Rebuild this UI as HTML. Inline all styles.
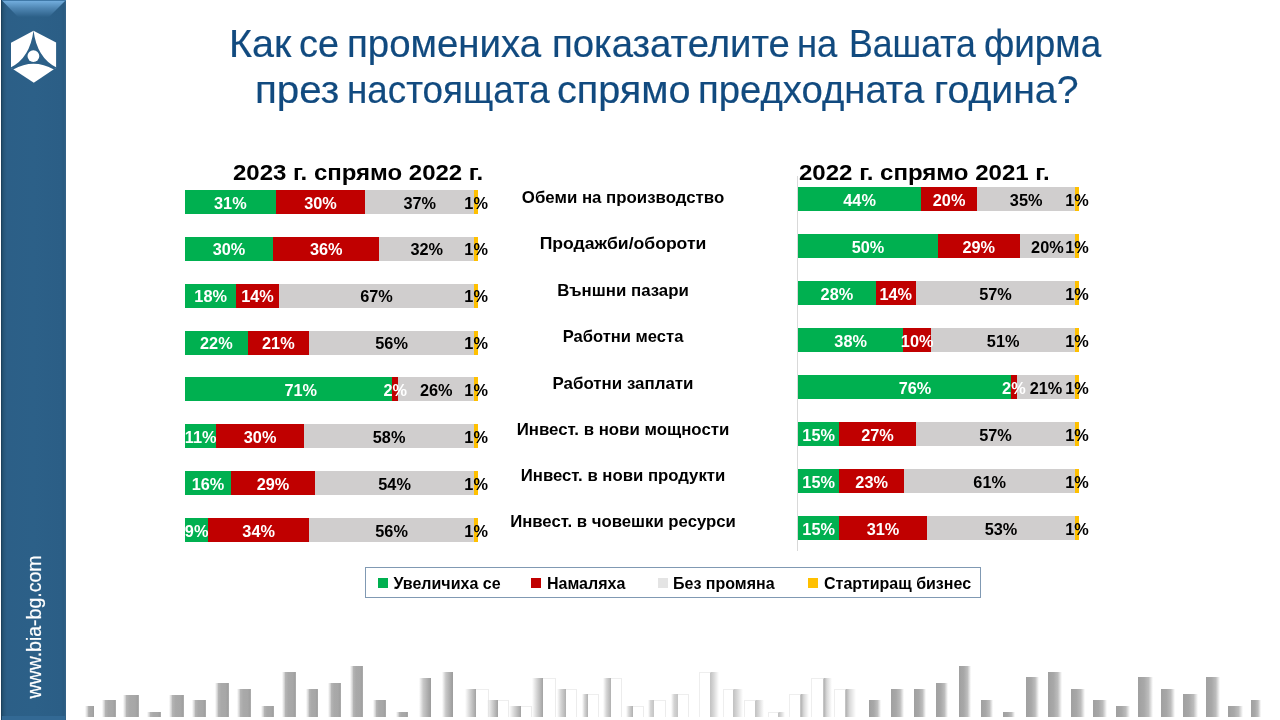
<!DOCTYPE html>
<html><head><meta charset="utf-8"><title>BIA</title>
<style>
html,body{margin:0;padding:0;background:#fff;}
body{width:1280px;height:720px;position:relative;overflow:hidden;font-family:"Liberation Sans", Arial, sans-serif;}
.b{position:absolute;}
.t{position:absolute;white-space:nowrap;}
</style></head><body>
<div class="b" style="left:1px;top:0;width:65px;height:720px;background:linear-gradient(90deg,#1b3954 0px,#23506f 1.5px,#29587c 3px,#2C5F87 6px,#2C6088 50%,#2B5E86 60px,#2a5a80 63px,#35648a 65px)"></div>
<svg class="b" style="left:1px;top:0" width="65" height="24" viewBox="0 0 65 24">
<defs><linearGradient id="bev" x1="0" y1="0" x2="0" y2="1"><stop offset="0" stop-color="#72addd"/><stop offset="0.45" stop-color="#4f86b3"/><stop offset="1" stop-color="#2C6088"/></linearGradient></defs>
<rect x="1" y="0" width="64" height="1" fill="#4079a8"/>
<polygon points="1.5,1 64,1 48,17 17,17" fill="url(#bev)"/>
</svg>
<div class="b" style="left:2px;top:716px;width:63px;height:4px;background:#336994"></div>
<svg class="b" style="left:0;top:0" width="66" height="100" viewBox="0 0 66 100">
<polygon points="33.5,30.8 56.1,42.5 56.1,67.7 33.8,82.8 11,67.7 11,42.8" fill="#fff"/>
<path d="M33.5,30.6 Q30,58 10.6,67.6 L13.2,69.4 Q33.5,58.2 53.9,69.4 L56.5,67.6 Q37,58 33.5,30.6 Z" fill="#2C6088"/>
<circle cx="33.4" cy="56.1" r="5.9" fill="#fff"/>
</svg>
<div class="t" style="left:35.1px;top:626.7px;font-size:19.5px;line-height:19.5px;font-weight:400;color:#fff;transform:translate(-50%,-50%) rotate(-90deg);-webkit-text-stroke:0.2px #fff;">www.bia-bg.com</div>
<div class="t" style="left:228.92px;top:24.71px;font-size:38.5px;line-height:38.5px;font-weight:400;color:#114A7F;transform-origin:0 50%;transform:scaleX(1.0276);-webkit-text-stroke:0.2px #114A7F;">Как</div>
<div class="t" style="left:298.64px;top:24.71px;font-size:38.5px;line-height:38.5px;font-weight:400;color:#114A7F;transform-origin:0 50%;transform:scaleX(0.9811);-webkit-text-stroke:0.2px #114A7F;">се</div>
<div class="t" style="left:347.01px;top:24.71px;font-size:38.5px;line-height:38.5px;font-weight:400;color:#114A7F;transform-origin:0 50%;transform:scaleX(0.9979);-webkit-text-stroke:0.2px #114A7F;">промениха</div>
<div class="t" style="left:552.02px;top:24.71px;font-size:38.5px;line-height:38.5px;font-weight:400;color:#114A7F;transform-origin:0 50%;transform:scaleX(0.9947);-webkit-text-stroke:0.2px #114A7F;">показателите</div>
<div class="t" style="left:797.16px;top:24.71px;font-size:38.5px;line-height:38.5px;font-weight:400;color:#114A7F;transform-origin:0 50%;transform:scaleX(0.945);-webkit-text-stroke:0.2px #114A7F;">на</div>
<div class="t" style="left:848.82px;top:24.71px;font-size:38.5px;line-height:38.5px;font-weight:400;color:#114A7F;transform-origin:0 50%;transform:scaleX(0.9254);-webkit-text-stroke:0.2px #114A7F;">Вашата</div>
<div class="t" style="left:984.34px;top:24.71px;font-size:38.5px;line-height:38.5px;font-weight:400;color:#114A7F;transform-origin:0 50%;transform:scaleX(0.9566);-webkit-text-stroke:0.2px #114A7F;">фирма</div>
<div class="t" style="left:254.86px;top:71.21px;font-size:38.5px;line-height:38.5px;font-weight:400;color:#114A7F;transform-origin:0 50%;transform:scaleX(1.0474);-webkit-text-stroke:0.2px #114A7F;">през</div>
<div class="t" style="left:346.53px;top:71.21px;font-size:38.5px;line-height:38.5px;font-weight:400;color:#114A7F;transform-origin:0 50%;transform:scaleX(0.955);-webkit-text-stroke:0.2px #114A7F;">настоящата</div>
<div class="t" style="left:557.34px;top:71.21px;font-size:38.5px;line-height:38.5px;font-weight:400;color:#114A7F;transform-origin:0 50%;transform:scaleX(1.0286);-webkit-text-stroke:0.2px #114A7F;">спрямо</div>
<div class="t" style="left:698.02px;top:71.21px;font-size:38.5px;line-height:38.5px;font-weight:400;color:#114A7F;transform-origin:0 50%;transform:scaleX(0.9942);-webkit-text-stroke:0.2px #114A7F;">предходната</div>
<div class="t" style="left:934.14px;top:71.21px;font-size:38.5px;line-height:38.5px;font-weight:400;color:#114A7F;transform-origin:0 50%;transform:scaleX(1.0188);-webkit-text-stroke:0.2px #114A7F;">година?</div>
<div class="t" style="left:233.00px;top:161.65px;font-size:22.5px;line-height:22.5px;font-weight:700;color:#000;transform-origin:0 50%;transform:scaleX(1.066);">2023 г. спрямо 2022 г.</div>
<div class="t" style="left:799.00px;top:161.65px;font-size:22.5px;line-height:22.5px;font-weight:700;color:#000;transform-origin:0 50%;transform:scaleX(1.068);">2022 г. спрямо 2021 г.</div>
<div class="b" style="left:797px;top:176px;width:1px;height:375px;background:#d9d9d9"></div>
<div class="b" style="left:185.00px;top:190.00px;width:90.70px;height:24px;background:#00B050"></div><div class="b" style="left:275.70px;top:190.00px;width:89.70px;height:24px;background:#C00000"></div><div class="b" style="left:365.40px;top:190.00px;width:108.80px;height:24px;background:#D0CECE"></div><div class="b" style="left:474.20px;top:190.00px;width:3.80px;height:24px;background:#FFC000"></div><div class="b" style="left:185.00px;top:236.86px;width:88.10px;height:24px;background:#00B050"></div><div class="b" style="left:273.10px;top:236.86px;width:106.20px;height:24px;background:#C00000"></div><div class="b" style="left:379.30px;top:236.86px;width:94.90px;height:24px;background:#D0CECE"></div><div class="b" style="left:474.20px;top:236.86px;width:3.80px;height:24px;background:#FFC000"></div><div class="b" style="left:185.00px;top:283.72px;width:51.30px;height:24px;background:#00B050"></div><div class="b" style="left:236.30px;top:283.72px;width:42.50px;height:24px;background:#C00000"></div><div class="b" style="left:278.80px;top:283.72px;width:195.40px;height:24px;background:#D0CECE"></div><div class="b" style="left:474.20px;top:283.72px;width:3.80px;height:24px;background:#FFC000"></div><div class="b" style="left:185.00px;top:330.58px;width:62.70px;height:24px;background:#00B050"></div><div class="b" style="left:247.70px;top:330.58px;width:61.30px;height:24px;background:#C00000"></div><div class="b" style="left:309.00px;top:330.58px;width:165.20px;height:24px;background:#D0CECE"></div><div class="b" style="left:474.20px;top:330.58px;width:3.80px;height:24px;background:#FFC000"></div><div class="b" style="left:185.00px;top:377.44px;width:207.30px;height:24px;background:#00B050"></div><div class="b" style="left:392.30px;top:377.44px;width:6.00px;height:24px;background:#C00000"></div><div class="b" style="left:398.30px;top:377.44px;width:75.90px;height:24px;background:#D0CECE"></div><div class="b" style="left:474.20px;top:377.44px;width:3.80px;height:24px;background:#FFC000"></div><div class="b" style="left:185.00px;top:424.30px;width:31.20px;height:24px;background:#00B050"></div><div class="b" style="left:216.20px;top:424.30px;width:87.80px;height:24px;background:#C00000"></div><div class="b" style="left:304.00px;top:424.30px;width:170.20px;height:24px;background:#D0CECE"></div><div class="b" style="left:474.20px;top:424.30px;width:3.80px;height:24px;background:#FFC000"></div><div class="b" style="left:185.00px;top:471.16px;width:46.00px;height:24px;background:#00B050"></div><div class="b" style="left:231.00px;top:471.16px;width:84.00px;height:24px;background:#C00000"></div><div class="b" style="left:315.00px;top:471.16px;width:159.20px;height:24px;background:#D0CECE"></div><div class="b" style="left:474.20px;top:471.16px;width:3.80px;height:24px;background:#FFC000"></div><div class="b" style="left:185.00px;top:518.02px;width:23.30px;height:24px;background:#00B050"></div><div class="b" style="left:208.30px;top:518.02px;width:100.70px;height:24px;background:#C00000"></div><div class="b" style="left:309.00px;top:518.02px;width:165.20px;height:24px;background:#D0CECE"></div><div class="b" style="left:474.20px;top:518.02px;width:3.80px;height:24px;background:#FFC000"></div>
<div class="b" style="left:798.00px;top:187.00px;width:123.25px;height:24px;background:#00B050"></div><div class="b" style="left:921.25px;top:187.00px;width:55.75px;height:24px;background:#C00000"></div><div class="b" style="left:977.00px;top:187.00px;width:98.30px;height:24px;background:#D0CECE"></div><div class="b" style="left:1075.30px;top:187.00px;width:3.30px;height:24px;background:#FFC000"></div><div class="b" style="left:798.00px;top:234.04px;width:140.00px;height:24px;background:#00B050"></div><div class="b" style="left:938.00px;top:234.04px;width:81.50px;height:24px;background:#C00000"></div><div class="b" style="left:1019.50px;top:234.04px;width:55.80px;height:24px;background:#D0CECE"></div><div class="b" style="left:1075.30px;top:234.04px;width:3.30px;height:24px;background:#FFC000"></div><div class="b" style="left:798.00px;top:281.08px;width:77.75px;height:24px;background:#00B050"></div><div class="b" style="left:875.75px;top:281.08px;width:40.00px;height:24px;background:#C00000"></div><div class="b" style="left:915.75px;top:281.08px;width:159.55px;height:24px;background:#D0CECE"></div><div class="b" style="left:1075.30px;top:281.08px;width:3.30px;height:24px;background:#FFC000"></div><div class="b" style="left:798.00px;top:328.12px;width:105.30px;height:24px;background:#00B050"></div><div class="b" style="left:903.30px;top:328.12px;width:27.70px;height:24px;background:#C00000"></div><div class="b" style="left:931.00px;top:328.12px;width:144.30px;height:24px;background:#D0CECE"></div><div class="b" style="left:1075.30px;top:328.12px;width:3.30px;height:24px;background:#FFC000"></div><div class="b" style="left:798.00px;top:375.16px;width:213.00px;height:24px;background:#00B050"></div><div class="b" style="left:1011.00px;top:375.16px;width:5.70px;height:24px;background:#C00000"></div><div class="b" style="left:1016.70px;top:375.16px;width:58.60px;height:24px;background:#D0CECE"></div><div class="b" style="left:1075.30px;top:375.16px;width:3.30px;height:24px;background:#FFC000"></div><div class="b" style="left:798.00px;top:422.20px;width:41.30px;height:24px;background:#00B050"></div><div class="b" style="left:839.30px;top:422.20px;width:76.40px;height:24px;background:#C00000"></div><div class="b" style="left:915.70px;top:422.20px;width:159.60px;height:24px;background:#D0CECE"></div><div class="b" style="left:1075.30px;top:422.20px;width:3.30px;height:24px;background:#FFC000"></div><div class="b" style="left:798.00px;top:469.24px;width:41.30px;height:24px;background:#00B050"></div><div class="b" style="left:839.30px;top:469.24px;width:64.70px;height:24px;background:#C00000"></div><div class="b" style="left:904.00px;top:469.24px;width:171.30px;height:24px;background:#D0CECE"></div><div class="b" style="left:1075.30px;top:469.24px;width:3.30px;height:24px;background:#FFC000"></div><div class="b" style="left:798.00px;top:516.28px;width:41.30px;height:24px;background:#00B050"></div><div class="b" style="left:839.30px;top:516.28px;width:87.40px;height:24px;background:#C00000"></div><div class="b" style="left:926.70px;top:516.28px;width:148.60px;height:24px;background:#D0CECE"></div><div class="b" style="left:1075.30px;top:516.28px;width:3.30px;height:24px;background:#FFC000"></div>
<div class="b" style="left:185px;top:0;width:320px;height:720px;overflow:hidden">
<div class="b" style="left:-185px;top:0;width:1280px;height:720px"><div class="t" style="left:230.35px;top:194.60px;font-size:16.3px;line-height:16.3px;font-weight:700;color:#fff;transform:translateX(-50%) scaleX(1.0);">31%</div><div class="t" style="left:320.55px;top:194.60px;font-size:16.3px;line-height:16.3px;font-weight:700;color:#fff;transform:translateX(-50%) scaleX(1.0);">30%</div><div class="t" style="left:419.80px;top:194.60px;font-size:16.3px;line-height:16.3px;font-weight:700;color:#000;transform:translateX(-50%) scaleX(1.0);">37%</div><div class="t" style="left:476.10px;top:194.60px;font-size:16.3px;line-height:16.3px;font-weight:700;color:#000;transform:translateX(-50%) scaleX(1.0);">1%</div><div class="t" style="left:229.05px;top:241.46px;font-size:16.3px;line-height:16.3px;font-weight:700;color:#fff;transform:translateX(-50%) scaleX(1.0);">30%</div><div class="t" style="left:326.20px;top:241.46px;font-size:16.3px;line-height:16.3px;font-weight:700;color:#fff;transform:translateX(-50%) scaleX(1.0);">36%</div><div class="t" style="left:426.75px;top:241.46px;font-size:16.3px;line-height:16.3px;font-weight:700;color:#000;transform:translateX(-50%) scaleX(1.0);">32%</div><div class="t" style="left:476.10px;top:241.46px;font-size:16.3px;line-height:16.3px;font-weight:700;color:#000;transform:translateX(-50%) scaleX(1.0);">1%</div><div class="t" style="left:210.65px;top:288.32px;font-size:16.3px;line-height:16.3px;font-weight:700;color:#fff;transform:translateX(-50%) scaleX(1.0);">18%</div><div class="t" style="left:257.55px;top:288.32px;font-size:16.3px;line-height:16.3px;font-weight:700;color:#fff;transform:translateX(-50%) scaleX(1.0);">14%</div><div class="t" style="left:376.50px;top:288.32px;font-size:16.3px;line-height:16.3px;font-weight:700;color:#000;transform:translateX(-50%) scaleX(1.0);">67%</div><div class="t" style="left:476.10px;top:288.32px;font-size:16.3px;line-height:16.3px;font-weight:700;color:#000;transform:translateX(-50%) scaleX(1.0);">1%</div><div class="t" style="left:216.35px;top:335.18px;font-size:16.3px;line-height:16.3px;font-weight:700;color:#fff;transform:translateX(-50%) scaleX(1.0);">22%</div><div class="t" style="left:278.35px;top:335.18px;font-size:16.3px;line-height:16.3px;font-weight:700;color:#fff;transform:translateX(-50%) scaleX(1.0);">21%</div><div class="t" style="left:391.60px;top:335.18px;font-size:16.3px;line-height:16.3px;font-weight:700;color:#000;transform:translateX(-50%) scaleX(1.0);">56%</div><div class="t" style="left:476.10px;top:335.18px;font-size:16.3px;line-height:16.3px;font-weight:700;color:#000;transform:translateX(-50%) scaleX(1.0);">1%</div><div class="t" style="left:300.80px;top:382.04px;font-size:16.3px;line-height:16.3px;font-weight:700;color:#fff;transform:translateX(-50%) scaleX(1.0);">71%</div><div class="t" style="left:395.30px;top:382.04px;font-size:16.3px;line-height:16.3px;font-weight:700;color:#fff;transform:translateX(-50%) scaleX(1.0);">2%</div><div class="t" style="left:436.25px;top:382.04px;font-size:16.3px;line-height:16.3px;font-weight:700;color:#000;transform:translateX(-50%) scaleX(1.0);">26%</div><div class="t" style="left:476.10px;top:382.04px;font-size:16.3px;line-height:16.3px;font-weight:700;color:#000;transform:translateX(-50%) scaleX(1.0);">1%</div><div class="t" style="left:200.60px;top:428.90px;font-size:16.3px;line-height:16.3px;font-weight:700;color:#fff;transform:translateX(-50%) scaleX(1.0);">11%</div><div class="t" style="left:260.10px;top:428.90px;font-size:16.3px;line-height:16.3px;font-weight:700;color:#fff;transform:translateX(-50%) scaleX(1.0);">30%</div><div class="t" style="left:389.10px;top:428.90px;font-size:16.3px;line-height:16.3px;font-weight:700;color:#000;transform:translateX(-50%) scaleX(1.0);">58%</div><div class="t" style="left:476.10px;top:428.90px;font-size:16.3px;line-height:16.3px;font-weight:700;color:#000;transform:translateX(-50%) scaleX(1.0);">1%</div><div class="t" style="left:208.00px;top:475.76px;font-size:16.3px;line-height:16.3px;font-weight:700;color:#fff;transform:translateX(-50%) scaleX(1.0);">16%</div><div class="t" style="left:273.00px;top:475.76px;font-size:16.3px;line-height:16.3px;font-weight:700;color:#fff;transform:translateX(-50%) scaleX(1.0);">29%</div><div class="t" style="left:394.60px;top:475.76px;font-size:16.3px;line-height:16.3px;font-weight:700;color:#000;transform:translateX(-50%) scaleX(1.0);">54%</div><div class="t" style="left:476.10px;top:475.76px;font-size:16.3px;line-height:16.3px;font-weight:700;color:#000;transform:translateX(-50%) scaleX(1.0);">1%</div><div class="t" style="left:196.65px;top:522.62px;font-size:16.3px;line-height:16.3px;font-weight:700;color:#fff;transform:translateX(-50%) scaleX(1.0);">9%</div><div class="t" style="left:258.65px;top:522.62px;font-size:16.3px;line-height:16.3px;font-weight:700;color:#fff;transform:translateX(-50%) scaleX(1.0);">34%</div><div class="t" style="left:391.60px;top:522.62px;font-size:16.3px;line-height:16.3px;font-weight:700;color:#000;transform:translateX(-50%) scaleX(1.0);">56%</div><div class="t" style="left:476.10px;top:522.62px;font-size:16.3px;line-height:16.3px;font-weight:700;color:#000;transform:translateX(-50%) scaleX(1.0);">1%</div></div></div>
<div class="t" style="left:859.62px;top:191.60px;font-size:16.3px;line-height:16.3px;font-weight:700;color:#fff;transform:translateX(-50%) scaleX(1.0);">44%</div><div class="t" style="left:949.12px;top:191.60px;font-size:16.3px;line-height:16.3px;font-weight:700;color:#fff;transform:translateX(-50%) scaleX(1.0);">20%</div><div class="t" style="left:1026.15px;top:191.60px;font-size:16.3px;line-height:16.3px;font-weight:700;color:#000;transform:translateX(-50%) scaleX(1.0);">35%</div><div class="t" style="left:1076.95px;top:191.60px;font-size:16.3px;line-height:16.3px;font-weight:700;color:#000;transform:translateX(-50%) scaleX(1.0);">1%</div><div class="t" style="left:868.00px;top:238.64px;font-size:16.3px;line-height:16.3px;font-weight:700;color:#fff;transform:translateX(-50%) scaleX(1.0);">50%</div><div class="t" style="left:978.75px;top:238.64px;font-size:16.3px;line-height:16.3px;font-weight:700;color:#fff;transform:translateX(-50%) scaleX(1.0);">29%</div><div class="t" style="left:1047.40px;top:238.64px;font-size:16.3px;line-height:16.3px;font-weight:700;color:#000;transform:translateX(-50%) scaleX(1.0);">20%</div><div class="t" style="left:1076.95px;top:238.64px;font-size:16.3px;line-height:16.3px;font-weight:700;color:#000;transform:translateX(-50%) scaleX(1.0);">1%</div><div class="t" style="left:836.88px;top:285.68px;font-size:16.3px;line-height:16.3px;font-weight:700;color:#fff;transform:translateX(-50%) scaleX(1.0);">28%</div><div class="t" style="left:895.75px;top:285.68px;font-size:16.3px;line-height:16.3px;font-weight:700;color:#fff;transform:translateX(-50%) scaleX(1.0);">14%</div><div class="t" style="left:995.52px;top:285.68px;font-size:16.3px;line-height:16.3px;font-weight:700;color:#000;transform:translateX(-50%) scaleX(1.0);">57%</div><div class="t" style="left:1076.95px;top:285.68px;font-size:16.3px;line-height:16.3px;font-weight:700;color:#000;transform:translateX(-50%) scaleX(1.0);">1%</div><div class="t" style="left:850.65px;top:332.72px;font-size:16.3px;line-height:16.3px;font-weight:700;color:#fff;transform:translateX(-50%) scaleX(1.0);">38%</div><div class="t" style="left:917.15px;top:332.72px;font-size:16.3px;line-height:16.3px;font-weight:700;color:#fff;transform:translateX(-50%) scaleX(1.0);">10%</div><div class="t" style="left:1003.15px;top:332.72px;font-size:16.3px;line-height:16.3px;font-weight:700;color:#000;transform:translateX(-50%) scaleX(1.0);">51%</div><div class="t" style="left:1076.95px;top:332.72px;font-size:16.3px;line-height:16.3px;font-weight:700;color:#000;transform:translateX(-50%) scaleX(1.0);">1%</div><div class="t" style="left:915.00px;top:379.76px;font-size:16.3px;line-height:16.3px;font-weight:700;color:#fff;transform:translateX(-50%) scaleX(1.0);">76%</div><div class="t" style="left:1013.85px;top:379.76px;font-size:16.3px;line-height:16.3px;font-weight:700;color:#fff;transform:translateX(-50%) scaleX(1.0);">2%</div><div class="t" style="left:1046.00px;top:379.76px;font-size:16.3px;line-height:16.3px;font-weight:700;color:#000;transform:translateX(-50%) scaleX(1.0);">21%</div><div class="t" style="left:1076.95px;top:379.76px;font-size:16.3px;line-height:16.3px;font-weight:700;color:#000;transform:translateX(-50%) scaleX(1.0);">1%</div><div class="t" style="left:818.65px;top:426.80px;font-size:16.3px;line-height:16.3px;font-weight:700;color:#fff;transform:translateX(-50%) scaleX(1.0);">15%</div><div class="t" style="left:877.50px;top:426.80px;font-size:16.3px;line-height:16.3px;font-weight:700;color:#fff;transform:translateX(-50%) scaleX(1.0);">27%</div><div class="t" style="left:995.50px;top:426.80px;font-size:16.3px;line-height:16.3px;font-weight:700;color:#000;transform:translateX(-50%) scaleX(1.0);">57%</div><div class="t" style="left:1076.95px;top:426.80px;font-size:16.3px;line-height:16.3px;font-weight:700;color:#000;transform:translateX(-50%) scaleX(1.0);">1%</div><div class="t" style="left:818.65px;top:473.84px;font-size:16.3px;line-height:16.3px;font-weight:700;color:#fff;transform:translateX(-50%) scaleX(1.0);">15%</div><div class="t" style="left:871.65px;top:473.84px;font-size:16.3px;line-height:16.3px;font-weight:700;color:#fff;transform:translateX(-50%) scaleX(1.0);">23%</div><div class="t" style="left:989.65px;top:473.84px;font-size:16.3px;line-height:16.3px;font-weight:700;color:#000;transform:translateX(-50%) scaleX(1.0);">61%</div><div class="t" style="left:1076.95px;top:473.84px;font-size:16.3px;line-height:16.3px;font-weight:700;color:#000;transform:translateX(-50%) scaleX(1.0);">1%</div><div class="t" style="left:818.65px;top:520.88px;font-size:16.3px;line-height:16.3px;font-weight:700;color:#fff;transform:translateX(-50%) scaleX(1.0);">15%</div><div class="t" style="left:883.00px;top:520.88px;font-size:16.3px;line-height:16.3px;font-weight:700;color:#fff;transform:translateX(-50%) scaleX(1.0);">31%</div><div class="t" style="left:1001.00px;top:520.88px;font-size:16.3px;line-height:16.3px;font-weight:700;color:#000;transform:translateX(-50%) scaleX(1.0);">53%</div><div class="t" style="left:1076.95px;top:520.88px;font-size:16.3px;line-height:16.3px;font-weight:700;color:#000;transform:translateX(-50%) scaleX(1.0);">1%</div>
<div class="t" style="left:622.50px;top:188.53px;font-size:16.5px;line-height:16.5px;font-weight:700;color:#000;transform:translateX(-50%) scaleX(1.0197);">Обеми на производство</div><div class="t" style="left:622.50px;top:235.28px;font-size:16.5px;line-height:16.5px;font-weight:700;color:#000;transform:translateX(-50%) scaleX(1.06605);">Продажби/обороти</div><div class="t" style="left:622.50px;top:281.53px;font-size:16.5px;line-height:16.5px;font-weight:700;color:#000;transform:translateX(-50%) scaleX(1.0197);">Външни пазари</div><div class="t" style="left:622.50px;top:327.78px;font-size:16.5px;line-height:16.5px;font-weight:700;color:#000;transform:translateX(-50%) scaleX(1.00425);">Работни места</div><div class="t" style="left:622.50px;top:374.53px;font-size:16.5px;line-height:16.5px;font-weight:700;color:#000;transform:translateX(-50%) scaleX(1.02485);">Работни заплати</div><div class="t" style="left:622.50px;top:421.23px;font-size:16.5px;line-height:16.5px;font-weight:700;color:#000;transform:translateX(-50%) scaleX(1.0197);">Инвест. в нови мощности</div><div class="t" style="left:622.50px;top:466.93px;font-size:16.5px;line-height:16.5px;font-weight:700;color:#000;transform:translateX(-50%) scaleX(1.01455);">Инвест. в нови продукти</div><div class="t" style="left:622.50px;top:513.13px;font-size:16.5px;line-height:16.5px;font-weight:700;color:#000;transform:translateX(-50%) scaleX(1.01455);">Инвест. в човешки ресурси</div>
<div class="b" style="left:365px;top:567px;width:614px;height:29px;border:1px solid #8099B3"></div>
<div class="b" style="left:378px;top:578px;width:10px;height:10px;background:#00B050"></div>
<div class="b" style="left:531px;top:578px;width:10px;height:10px;background:#C00000"></div>
<div class="b" style="left:658px;top:578px;width:10px;height:10px;background:#E4E4E4"></div>
<div class="b" style="left:808px;top:578px;width:10px;height:10px;background:#FFC000"></div>
<div class="t" style="left:393.50px;top:575.86px;font-size:16px;line-height:16px;font-weight:700;color:#000;transform-origin:0 50%;transform:scaleX(1.0);">Увеличиха се</div>
<div class="t" style="left:547.00px;top:575.86px;font-size:16px;line-height:16px;font-weight:700;color:#000;transform-origin:0 50%;transform:scaleX(1.0);">Намаляха</div>
<div class="t" style="left:673.00px;top:575.86px;font-size:16px;line-height:16px;font-weight:700;color:#000;transform-origin:0 50%;transform:scaleX(1.0);">Без промяна</div>
<div class="t" style="left:824.00px;top:575.86px;font-size:16px;line-height:16px;font-weight:700;color:#000;transform-origin:0 50%;transform:scaleX(1.0);">Стартиращ бизнес</div>
<div class="b" style="left:85px;top:706px;width:3.00px;height:11.00px;background:linear-gradient(90deg,rgba(200,200,200,0),rgba(185,185,185,0.8));"></div><div class="b" style="left:88px;top:706px;width:6.00px;height:11.00px;background:linear-gradient(90deg,#b6b6b6 0%,#a9a9a9 30%,#a7a7a7 70%,#9f9f9f 92%,#b8b8b8 100%);"></div><div class="b" style="left:102px;top:700.3px;width:3.00px;height:16.70px;background:linear-gradient(90deg,rgba(200,200,200,0),rgba(185,185,185,0.8));"></div><div class="b" style="left:105px;top:700.3px;width:11.00px;height:16.70px;background:linear-gradient(90deg,#b6b6b6 0%,#a9a9a9 30%,#a7a7a7 70%,#9f9f9f 92%,#b8b8b8 100%);"></div><div class="b" style="left:123px;top:694.5px;width:3.00px;height:22.50px;background:linear-gradient(90deg,rgba(200,200,200,0),rgba(185,185,185,0.8));"></div><div class="b" style="left:126px;top:694.5px;width:13.00px;height:22.50px;background:linear-gradient(90deg,#b6b6b6 0%,#a9a9a9 30%,#a7a7a7 70%,#9f9f9f 92%,#b8b8b8 100%);"></div><div class="b" style="left:147px;top:711.9px;width:3.00px;height:5.10px;background:linear-gradient(90deg,rgba(200,200,200,0),rgba(185,185,185,0.8));"></div><div class="b" style="left:150px;top:711.9px;width:11.00px;height:5.10px;background:linear-gradient(90deg,#b6b6b6 0%,#a9a9a9 30%,#a7a7a7 70%,#9f9f9f 92%,#b8b8b8 100%);"></div><div class="b" style="left:169px;top:694.75px;width:3.00px;height:22.25px;background:linear-gradient(90deg,rgba(200,200,200,0),rgba(185,185,185,0.8));"></div><div class="b" style="left:172px;top:694.75px;width:12.00px;height:22.25px;background:linear-gradient(90deg,#b6b6b6 0%,#a9a9a9 30%,#a7a7a7 70%,#9f9f9f 92%,#b8b8b8 100%);"></div><div class="b" style="left:192px;top:700.25px;width:3.00px;height:16.75px;background:linear-gradient(90deg,rgba(200,200,200,0),rgba(185,185,185,0.8));"></div><div class="b" style="left:195px;top:700.25px;width:11.00px;height:16.75px;background:linear-gradient(90deg,#b6b6b6 0%,#a9a9a9 30%,#a7a7a7 70%,#9f9f9f 92%,#b8b8b8 100%);"></div><div class="b" style="left:214.5px;top:682.9px;width:3.00px;height:34.10px;background:linear-gradient(90deg,rgba(200,200,200,0),rgba(185,185,185,0.8));"></div><div class="b" style="left:217.5px;top:682.9px;width:11.50px;height:34.10px;background:linear-gradient(90deg,#b6b6b6 0%,#a9a9a9 30%,#a7a7a7 70%,#9f9f9f 92%,#b8b8b8 100%);"></div><div class="b" style="left:237px;top:688.75px;width:3.00px;height:28.25px;background:linear-gradient(90deg,rgba(200,200,200,0),rgba(185,185,185,0.8));"></div><div class="b" style="left:240px;top:688.75px;width:11.00px;height:28.25px;background:linear-gradient(90deg,#b6b6b6 0%,#a9a9a9 30%,#a7a7a7 70%,#9f9f9f 92%,#b8b8b8 100%);"></div><div class="b" style="left:260.75px;top:706px;width:3.00px;height:11.00px;background:linear-gradient(90deg,rgba(200,200,200,0),rgba(185,185,185,0.8));"></div><div class="b" style="left:263.75px;top:706px;width:10.00px;height:11.00px;background:linear-gradient(90deg,#b6b6b6 0%,#a9a9a9 30%,#a7a7a7 70%,#9f9f9f 92%,#b8b8b8 100%);"></div><div class="b" style="left:282px;top:671.5px;width:3.00px;height:45.50px;background:linear-gradient(90deg,rgba(200,200,200,0),rgba(185,185,185,0.8));"></div><div class="b" style="left:285px;top:671.5px;width:11.00px;height:45.50px;background:linear-gradient(90deg,#b6b6b6 0%,#a9a9a9 30%,#a7a7a7 70%,#9f9f9f 92%,#b8b8b8 100%);"></div><div class="b" style="left:305.75px;top:688.75px;width:3.00px;height:28.25px;background:linear-gradient(90deg,rgba(200,200,200,0),rgba(185,185,185,0.8));"></div><div class="b" style="left:308.75px;top:688.75px;width:9.25px;height:28.25px;background:linear-gradient(90deg,#b6b6b6 0%,#a9a9a9 30%,#a7a7a7 70%,#9f9f9f 92%,#b8b8b8 100%);"></div><div class="b" style="left:328px;top:683px;width:3.00px;height:34.00px;background:linear-gradient(90deg,rgba(200,200,200,0),rgba(185,185,185,0.8));"></div><div class="b" style="left:331px;top:683px;width:10.00px;height:34.00px;background:linear-gradient(90deg,#b6b6b6 0%,#a9a9a9 30%,#a7a7a7 70%,#9f9f9f 92%,#b8b8b8 100%);"></div><div class="b" style="left:350px;top:665.6px;width:3.00px;height:51.40px;background:linear-gradient(90deg,rgba(200,200,200,0),rgba(185,185,185,0.8));"></div><div class="b" style="left:353px;top:665.6px;width:10.00px;height:51.40px;background:linear-gradient(90deg,#b6b6b6 0%,#a9a9a9 30%,#a7a7a7 70%,#9f9f9f 92%,#b8b8b8 100%);"></div><div class="b" style="left:373px;top:700.3px;width:3.00px;height:16.70px;background:linear-gradient(90deg,rgba(200,200,200,0),rgba(185,185,185,0.8));"></div><div class="b" style="left:376px;top:700.3px;width:10.00px;height:16.70px;background:linear-gradient(90deg,#b6b6b6 0%,#a9a9a9 30%,#a7a7a7 70%,#9f9f9f 92%,#b8b8b8 100%);"></div><div class="b" style="left:396px;top:712px;width:3.00px;height:5.00px;background:linear-gradient(90deg,rgba(200,200,200,0),rgba(185,185,185,0.8));"></div><div class="b" style="left:399px;top:712px;width:9.00px;height:5.00px;background:linear-gradient(90deg,#b6b6b6 0%,#a9a9a9 30%,#a7a7a7 70%,#9f9f9f 92%,#b8b8b8 100%);"></div><div class="b" style="left:419.25px;top:677.5px;width:11.35px;height:39.50px;background:linear-gradient(90deg,rgba(230,230,230,0) 0%,#c8c8c8 35%,#a4a4a4 85%,#9c9c9c 100%);"></div><div class="b" style="left:441.75px;top:671.5px;width:11.00px;height:45.50px;background:linear-gradient(90deg,rgba(230,230,230,0) 0%,#c8c8c8 35%,#a4a4a4 85%,#9c9c9c 100%);"></div><div class="b" style="left:465px;top:688.75px;width:10.60px;height:28.25px;background:linear-gradient(90deg,rgba(230,230,230,0) 0%,#d4d4d4 45%,#a2a2a2 100%);"></div><div class="b" style="left:475.6px;top:688.75px;width:13.15px;height:28.25px;background:#fff;box-sizing:border-box;border-top:1px solid #eeeeee;border-right:1px solid #ececec;"></div><div class="b" style="left:487.4px;top:700.25px;width:10.35px;height:16.75px;background:linear-gradient(90deg,rgba(230,230,230,0) 0%,#d4d4d4 45%,#a2a2a2 100%);"></div><div class="b" style="left:497.75px;top:700.25px;width:11.00px;height:16.75px;background:#fff;box-sizing:border-box;border-top:1px solid #eeeeee;border-right:1px solid #ececec;"></div><div class="b" style="left:509.25px;top:706px;width:11.35px;height:11.00px;background:linear-gradient(90deg,rgba(230,230,230,0) 0%,#d4d4d4 45%,#a2a2a2 100%);"></div><div class="b" style="left:520.6px;top:706px;width:11.40px;height:11.00px;background:#fff;box-sizing:border-box;border-top:1px solid #eeeeee;border-right:1px solid #ececec;"></div><div class="b" style="left:532.4px;top:677.5px;width:10.70px;height:39.50px;background:linear-gradient(90deg,rgba(230,230,230,0) 0%,#d4d4d4 45%,#a2a2a2 100%);"></div><div class="b" style="left:543.1px;top:677.5px;width:12.50px;height:39.50px;background:#fff;box-sizing:border-box;border-top:1px solid #eeeeee;border-right:1px solid #ececec;"></div><div class="b" style="left:557.4px;top:688.75px;width:8.20px;height:28.25px;background:linear-gradient(90deg,rgba(230,230,230,0) 0%,#d4d4d4 45%,#b0b0b0 100%);"></div><div class="b" style="left:565.6px;top:688.75px;width:11.90px;height:28.25px;background:#fff;box-sizing:border-box;border-top:1px solid #eeeeee;border-right:1px solid #ececec;"></div><div class="b" style="left:581.75px;top:694.4px;width:5.75px;height:22.60px;background:linear-gradient(90deg,rgba(230,230,230,0) 0%,#d4d4d4 45%,#b0b0b0 100%);"></div><div class="b" style="left:587.5px;top:694.4px;width:11.90px;height:22.60px;background:#fff;box-sizing:border-box;border-top:1px solid #eeeeee;border-right:1px solid #ececec;"></div><div class="b" style="left:603px;top:677.5px;width:7.60px;height:39.50px;background:linear-gradient(90deg,rgba(230,230,230,0) 0%,#d4d4d4 45%,#b0b0b0 100%);"></div><div class="b" style="left:610.6px;top:677.5px;width:11.90px;height:39.50px;background:#fff;box-sizing:border-box;border-top:1px solid #eeeeee;border-right:1px solid #ececec;"></div><div class="b" style="left:625.5px;top:706px;width:7.00px;height:11.00px;background:linear-gradient(90deg,rgba(230,230,230,0) 0%,#d4d4d4 45%,#b0b0b0 100%);"></div><div class="b" style="left:632.5px;top:706px;width:11.90px;height:11.00px;background:#fff;box-sizing:border-box;border-top:1px solid #eeeeee;border-right:1px solid #ececec;"></div><div class="b" style="left:648px;top:700.25px;width:6.40px;height:16.75px;background:linear-gradient(90deg,rgba(230,230,230,0) 0%,#d4d4d4 45%,#c4c4c4 100%);"></div><div class="b" style="left:654.4px;top:700.25px;width:11.85px;height:16.75px;background:#fff;box-sizing:border-box;border-top:1px solid #eeeeee;border-right:1px solid #ececec;"></div><div class="b" style="left:670.5px;top:694.4px;width:7.00px;height:22.60px;background:linear-gradient(90deg,rgba(230,230,230,0) 0%,#d4d4d4 45%,#c4c4c4 100%);"></div><div class="b" style="left:677.5px;top:694.4px;width:11.90px;height:22.60px;background:#fff;box-sizing:border-box;border-top:1px solid #eeeeee;border-right:1px solid #ececec;"></div><div class="b" style="left:699.4px;top:671.5px;width:11.85px;height:45.50px;background:#fff;box-sizing:border-box;border:1px solid #eeeeee;border-right-color:#c4c4c4;border-bottom:none;"></div><div class="b" style="left:711.25px;top:671.5px;width:7.50px;height:45.50px;background:linear-gradient(90deg,#c6c6c6 0%,#d8d8d8 35%,rgba(240,240,240,0) 100%);"></div><div class="b" style="left:722.5px;top:688.75px;width:11.50px;height:28.25px;background:#fff;box-sizing:border-box;border:1px solid #eeeeee;border-right-color:#c4c4c4;border-bottom:none;"></div><div class="b" style="left:734px;top:688.75px;width:8.50px;height:28.25px;background:linear-gradient(90deg,#c6c6c6 0%,#d8d8d8 35%,rgba(240,240,240,0) 100%);"></div><div class="b" style="left:744.4px;top:700.25px;width:11.85px;height:16.75px;background:#fff;box-sizing:border-box;border:1px solid #eeeeee;border-right-color:#c4c4c4;border-bottom:none;"></div><div class="b" style="left:756.25px;top:700.25px;width:7.50px;height:16.75px;background:linear-gradient(90deg,#c6c6c6 0%,#d8d8d8 35%,rgba(240,240,240,0) 100%);"></div><div class="b" style="left:767.5px;top:711.9px;width:11.50px;height:5.10px;background:#fff;box-sizing:border-box;border:1px solid #eeeeee;border-right-color:#c4c4c4;border-bottom:none;"></div><div class="b" style="left:779px;top:711.9px;width:6.00px;height:5.10px;background:linear-gradient(90deg,#c6c6c6 0%,#d8d8d8 35%,rgba(240,240,240,0) 100%);"></div><div class="b" style="left:789.4px;top:694.4px;width:11.85px;height:22.60px;background:#fff;box-sizing:border-box;border:1px solid #eeeeee;border-right-color:#c4c4c4;border-bottom:none;"></div><div class="b" style="left:801.25px;top:694.4px;width:7.50px;height:22.60px;background:linear-gradient(90deg,#b2b2b2 0%,#d8d8d8 35%,rgba(240,240,240,0) 100%);"></div><div class="b" style="left:811.25px;top:677.5px;width:13.15px;height:39.50px;background:#fff;box-sizing:border-box;border:1px solid #eeeeee;border-right-color:#c4c4c4;border-bottom:none;"></div><div class="b" style="left:824.4px;top:677.5px;width:8.10px;height:39.50px;background:linear-gradient(90deg,#b2b2b2 0%,#d8d8d8 35%,rgba(240,240,240,0) 100%);"></div><div class="b" style="left:834.4px;top:688.75px;width:11.85px;height:28.25px;background:#fff;box-sizing:border-box;border:1px solid #eeeeee;border-right-color:#c4c4c4;border-bottom:none;"></div><div class="b" style="left:846.25px;top:688.75px;width:10.00px;height:28.25px;background:linear-gradient(90deg,#b2b2b2 0%,#d8d8d8 35%,rgba(240,240,240,0) 100%);"></div><div class="b" style="left:869px;top:700.3px;width:12.00px;height:16.70px;background:linear-gradient(90deg,#a0a0a0 0%,#a8a8a8 40%,#bcbcbc 70%,rgba(225,225,225,0) 100%);"></div><div class="b" style="left:891px;top:688.6px;width:13.00px;height:28.40px;background:linear-gradient(90deg,#a0a0a0 0%,#a8a8a8 40%,#bcbcbc 70%,rgba(225,225,225,0) 100%);"></div><div class="b" style="left:914px;top:688.6px;width:12.00px;height:28.40px;background:linear-gradient(90deg,#a0a0a0 0%,#a8a8a8 40%,#bcbcbc 70%,rgba(225,225,225,0) 100%);"></div><div class="b" style="left:936px;top:682.8px;width:12.00px;height:34.20px;background:linear-gradient(90deg,#a0a0a0 0%,#a8a8a8 40%,#bcbcbc 70%,rgba(225,225,225,0) 100%);"></div><div class="b" style="left:959px;top:665.6px;width:12.00px;height:51.40px;background:linear-gradient(90deg,#a0a0a0 0%,#a8a8a8 40%,#bcbcbc 70%,rgba(225,225,225,0) 100%);"></div><div class="b" style="left:981px;top:700.3px;width:12.00px;height:16.70px;background:linear-gradient(90deg,#a0a0a0 0%,#a8a8a8 40%,#bcbcbc 70%,rgba(225,225,225,0) 100%);"></div><div class="b" style="left:1003px;top:712px;width:12.00px;height:5.00px;background:linear-gradient(90deg,#a0a0a0 0%,#a8a8a8 40%,#bcbcbc 70%,rgba(225,225,225,0) 100%);"></div><div class="b" style="left:1026px;top:677.2px;width:13.00px;height:39.80px;background:linear-gradient(90deg,#a0a0a0 0%,#a8a8a8 40%,#bcbcbc 70%,rgba(225,225,225,0) 100%);"></div><div class="b" style="left:1048px;top:671.5px;width:14.00px;height:45.50px;background:linear-gradient(90deg,#a0a0a0 0%,#a8a8a8 40%,#bcbcbc 70%,rgba(225,225,225,0) 100%);"></div><div class="b" style="left:1071px;top:688.7px;width:14.00px;height:28.30px;background:linear-gradient(90deg,#a0a0a0 0%,#a8a8a8 40%,#bcbcbc 70%,rgba(225,225,225,0) 100%);"></div><div class="b" style="left:1093px;top:700.4px;width:14.00px;height:16.60px;background:linear-gradient(90deg,#a0a0a0 0%,#a8a8a8 40%,#bcbcbc 70%,rgba(225,225,225,0) 100%);"></div><div class="b" style="left:1116px;top:706px;width:14.00px;height:11.00px;background:linear-gradient(90deg,#a0a0a0 0%,#a8a8a8 40%,#bcbcbc 70%,rgba(225,225,225,0) 100%);"></div><div class="b" style="left:1138px;top:677.1px;width:15.00px;height:39.90px;background:linear-gradient(90deg,#a0a0a0 0%,#a8a8a8 40%,#bcbcbc 70%,rgba(225,225,225,0) 100%);"></div><div class="b" style="left:1161px;top:688.7px;width:14.00px;height:28.30px;background:linear-gradient(90deg,#a0a0a0 0%,#a8a8a8 40%,#bcbcbc 70%,rgba(225,225,225,0) 100%);"></div><div class="b" style="left:1183px;top:694.4px;width:15.00px;height:22.60px;background:linear-gradient(90deg,#a0a0a0 0%,#a8a8a8 40%,#bcbcbc 70%,rgba(225,225,225,0) 100%);"></div><div class="b" style="left:1206px;top:677.1px;width:14.00px;height:39.90px;background:linear-gradient(90deg,#a0a0a0 0%,#a8a8a8 40%,#bcbcbc 70%,rgba(225,225,225,0) 100%);"></div><div class="b" style="left:1228px;top:706px;width:15.00px;height:11.00px;background:linear-gradient(90deg,#a0a0a0 0%,#a8a8a8 40%,#bcbcbc 70%,rgba(225,225,225,0) 100%);"></div><div class="b" style="left:1251px;top:700.4px;width:9.50px;height:16.60px;background:linear-gradient(90deg,#a0a0a0 0%,#a8a8a8 40%,#bcbcbc 70%,rgba(225,225,225,0) 100%);"></div>
</body></html>
